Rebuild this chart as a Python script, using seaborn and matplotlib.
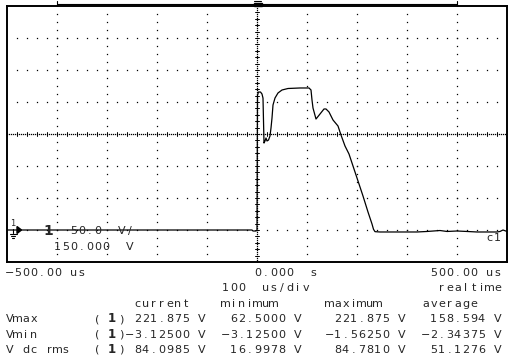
import matplotlib
matplotlib.use("Agg")
import matplotlib.pyplot as plt
import matplotlib.patches as mpatches
import numpy as np
import pandas as pd
import seaborn as sns

# channel 1 capture: time (us) and voltage (V)
t_us = [-500, -10, -8, -2, 0, 1, 3, 7, 10, 12, 14, 16, 18, 20, 23, 26, 28, 30,
        32, 36, 42, 50, 62, 86, 104, 108, 110, 112, 118, 126, 134, 138, 144,
        152, 162, 168, 176, 184, 192, 202, 212, 222, 230, 233, 236, 246, 272,
        300, 320, 340, 366, 380, 400, 420, 440, 460, 480, 486, 492, 500]
volts = [0, 0, -1.56, -1.56, 0, 210.9, 215.6, 215.6, 212.5, 206.0, 135.9,
         139.1, 143.75, 139.1, 140.6, 146.9, 159.4, 175.0, 195.3, 206.25,
         214.1, 218.75, 221.1, 221.9, 221.9, 218.75, 203.1, 190.6, 173.4,
         181.25, 189.1, 189.1, 184.4, 171.9, 162.5, 148.4, 131.25, 118.75,
         100.0, 76.6, 53.1, 28.1, 9.4, 1.1, -2.6, -3.1, -3.1, -3.1, -3.1,
         -2.3, -0.8, -2.3, -1.56, -2.3, -3.1, -3.1, -3.1, -2.3, 0, -2.3]

# scope settings
t_left, t_right = -500, 500
v_per_div = 50.0
v_offset = 150.0
n_xdiv, n_ydiv = 10, 8

# measurement table
row_labels = ["Vmax", "Vmin", "V dc rms"]
col_heads = ["current", "minimum", "maximum", "average"]
meas_current = [" 221.875 V", "-3.12500 V", " 84.0985 V"]
meas_minimum = ["62.5000 V", "-3.12500 V", "16.9978 V"]
meas_maximum = ["221.875 V", "-1.56250 V", "84.7810 V"]
meas_average = ["158.594 V", "-2.34375 V", "51.1276 V"]

sns.set_style("white")
plt.rcParams["font.family"] = ["DejaVu Sans"]

W, H = 511, 358
fig = plt.figure(figsize=(W / 100, H / 100), dpi=100)
box_l, box_r, box_t, box_b = 7, 507, 6, 262
ax = fig.add_axes([box_l / W, 1 - box_b / H, (box_r - box_l) / W, (box_b - box_t) / H])

v_lo = v_offset - v_per_div * n_ydiv / 2
v_hi = v_offset + v_per_div * n_ydiv / 2
ax.set_xlim(t_left, t_right)
ax.set_ylim(v_lo, v_hi)
ax.set_xticks([])
ax.set_yticks([])
for sp in ax.spines.values():
    sp.set_color("black")
    sp.set_linewidth(1.4)

tdiv = (t_right - t_left) / n_xdiv
dot = dict(ls="none", marker="s", ms=0.9, mew=0, color="black")

# graticule dots
for i in range(1, n_xdiv):
    tx = t_left + i * tdiv
    if tx == 0:
        continue
    vy = np.arange(v_lo + v_per_div / 4, v_hi, v_per_div / 4)
    ax.plot(np.full_like(vy, tx), vy, **dot)
for j in range(1, n_ydiv):
    vy = v_lo + j * v_per_div
    if vy == v_offset:
        continue
    tx = np.arange(t_left + tdiv / 5, t_right, tdiv / 5)
    ax.plot(tx, np.full_like(tx, vy), **dot)

# centre axes with ticks
vy = np.arange(v_lo, v_hi, 3.125)
ax.plot(np.zeros_like(vy), vy, **dot)
for vt in np.arange(v_lo, v_hi, v_per_div / 5):
    ax.plot([-4, 4], [vt, vt], color="black", lw=0.7)
tx = np.arange(t_left, t_right, 4)
ax.plot(tx, np.full_like(tx, v_offset, dtype=float), **dot)
for tt in np.arange(t_left, t_right, tdiv / 5):
    ax.plot([tt, tt], [v_offset - 3, v_offset + 3], color="black", lw=0.7)

df = pd.DataFrame({"t": t_us, "v": volts})
sns.lineplot(data=df, x="t", y="v", ax=ax, color="black", lw=0.9,
             sort=False, estimator=None, zorder=5)
ax.set_xlabel("")
ax.set_ylabel("")

# overlay in pixel coordinates for the screen text and markers
ov = fig.add_axes([0, 0, 1, 1], facecolor="none")
ov.set_xlim(0, W)
ov.set_ylim(H, 0)
ov.axis("off")


def put(col, y, s, bold=False, size=8):
    for i, ch in enumerate(s):
        if ch != " ":
            ov.text(6 + 8 * (col + i) + 3.5, y, ch, ha="center", va="baseline",
                    fontsize=size, fontweight="bold" if bold else "normal")


# memory bar above the graticule
ov.plot([57, 457], [3.5, 3.5], color="black", lw=0.8)
ov.plot([57, 57], [0.5, 6], color="black", lw=0.8)
ov.plot([457, 457], [0.5, 6], color="black", lw=0.8)
ov.add_patch(mpatches.Rectangle((253.5, 2.5), 8, 3.5, color="black"))
ov.plot([254, 261], [1, 1], color="black", lw=0.8)

# ground marker for channel 1
ov.text(13, 226, "1", ha="center", va="baseline", fontsize=6)
ov.add_patch(mpatches.Polygon([[17, 226.5], [17, 233.5], [21.5, 230]], color="black"))
ov.plot([13, 13], [229, 233], color="black", lw=0.8)
ov.plot([9.5, 16.5], [233.5, 233.5], color="black", lw=0.8)
ov.plot([11, 15], [235.5, 235.5], color="black", lw=0.8)
ov.plot([12.3, 13.7], [237.5, 237.5], color="black", lw=0.8)
ov.text(48, 235, "1", ha="center", va="baseline", fontsize=10, fontweight="bold")
put(8, 234, "50.0  V/")
put(6, 249.6, "150.000  V")
put(60, 241, "c1")

rows = [276, 291.4, 306.8, 322.2, 337.6, 353]
put(0, rows[0], "\u2212500.00 us")
put(31, rows[0], "0.000  s")
put(53, rows[0], "500.00 us")
put(27, rows[1], "100  us/div")
put(54, rows[1], "realtime")
for col, head in zip([16, 27, 40, 52], col_heads):
    put(col, rows[2], head)
for k, lab in enumerate(row_labels):
    y = rows[3 + k]
    put(0, y, lab)
    put(11, y, "(")
    ov.text(111.5, y, "1", ha="center", va="baseline", fontsize=8.5, fontweight="bold")
    put(14, y, ")")
    for end_col, vals in zip([24, 36, 49, 61],
                             [meas_current, meas_minimum, meas_maximum, meas_average]):
        s = vals[k].replace("-", "\u2212")
        put(end_col - len(s) + 1, y, s)

fig.savefig("out.png", dpi=100, facecolor="white")
